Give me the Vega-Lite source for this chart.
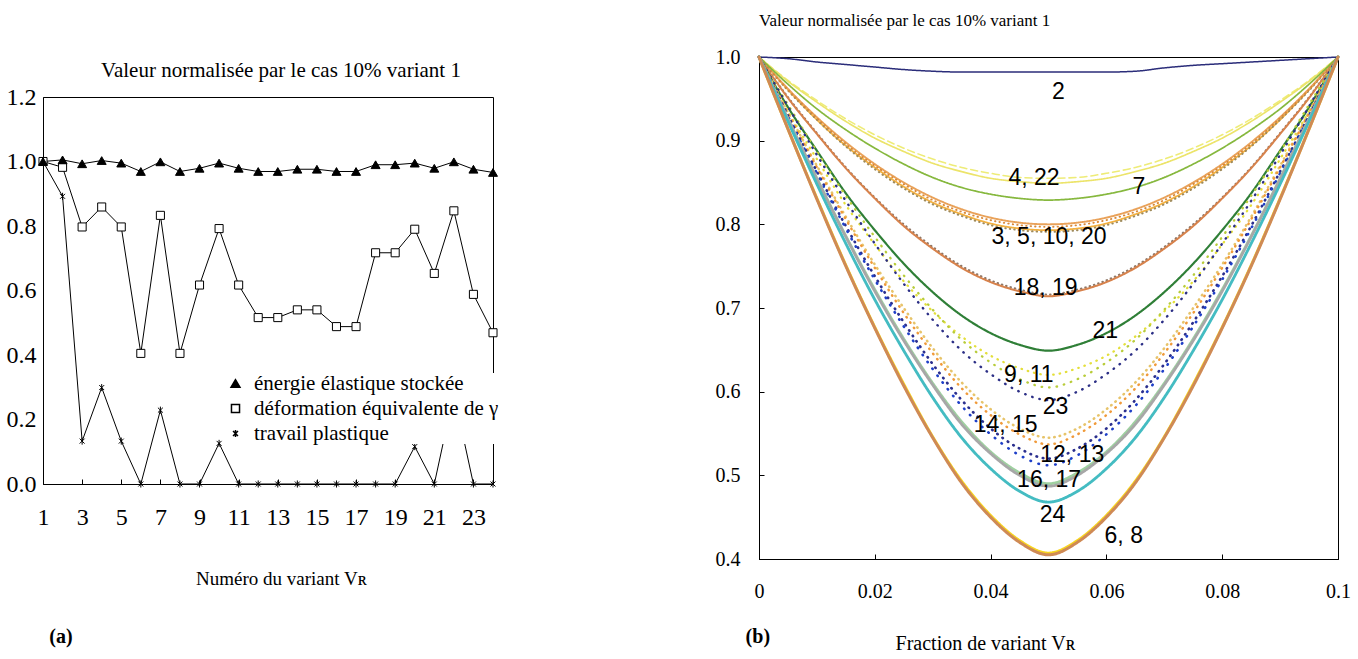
{
  "$schema": "https://vega.github.io/schema/vega-lite/v6.json",
  "background": "white",
  "padding": {"left": 5, "top": 11, "right": 5, "bottom": 5},
  "config": {
    "view": {"stroke": "black", "strokeWidth": 1},
    "font": "Liberation Serif",
    "axis": {"domainColor": "black", "tickColor": "black", "labelColor": "black", "titleColor": "black", "grid": false, "labelFont": "Liberation Serif", "titleFont": "Liberation Serif", "titleFontWeight": "normal"},
    "legend": {"labelFont": "Liberation Serif", "labelFontSize": 21, "labelColor": "black", "labelLimit": 0},
    "title": {"font": "Liberation Serif", "fontWeight": "normal", "color": "black"}
  },
  "spacing": 214,
  "hconcat": [
    {
      "spacing": 1,
      "vconcat": [
        {"width": 450, "height": 1, "data": {"values": []}, "mark": "point", "view": {"stroke": null}},
        {
          "width": 450,
          "height": 387,
          "title": {"text": "Valeur normalisée par le cas 10% variant 1", "fontSize": 21, "offset": 4, "anchor": "middle", "dx": 13},
          "layer": [
            {
              "data": {"name": "variants", "values": [
                {"v": 1, "a": 1.0, "b": 1.0, "c": 1.0},
                {"v": 2, "a": 1.005, "b": 0.982, "c": 0.892},
                {"v": 3, "a": 0.993, "b": 0.797, "c": 0.133},
                {"v": 4, "a": 1.003, "b": 0.859, "c": 0.299},
                {"v": 5, "a": 0.995, "b": 0.797, "c": 0.133},
                {"v": 6, "a": 0.969, "b": 0.405, "c": 0.0},
                {"v": 7, "a": 0.999, "b": 0.833, "c": 0.229},
                {"v": 8, "a": 0.969, "b": 0.405, "c": 0.0},
                {"v": 9, "a": 0.979, "b": 0.617, "c": 0.0},
                {"v": 10, "a": 0.995, "b": 0.792, "c": 0.126},
                {"v": 11, "a": 0.979, "b": 0.617, "c": 0.0},
                {"v": 12, "a": 0.969, "b": 0.516, "c": 0.0},
                {"v": 13, "a": 0.969, "b": 0.516, "c": 0.0},
                {"v": 14, "a": 0.976, "b": 0.54, "c": 0.0},
                {"v": 15, "a": 0.976, "b": 0.54, "c": 0.0},
                {"v": 16, "a": 0.969, "b": 0.488, "c": 0.0},
                {"v": 17, "a": 0.969, "b": 0.488, "c": 0.0},
                {"v": 18, "a": 0.99, "b": 0.717, "c": 0.0},
                {"v": 19, "a": 0.99, "b": 0.717, "c": 0.0},
                {"v": 20, "a": 0.995, "b": 0.79, "c": 0.116},
                {"v": 21, "a": 0.979, "b": 0.653, "c": 0.0},
                {"v": 22, "a": 0.999, "b": 0.847, "c": 0.28},
                {"v": 23, "a": 0.976, "b": 0.588, "c": 0.0},
                {"v": 24, "a": 0.966, "b": 0.469, "c": 0.0}
              ]},
              "transform": [{"fold": ["c", "b", "a"], "as": ["s", "y"]}],
              "encoding": {
                "x": {"field": "v", "type": "quantitative", "scale": {"domain": [1, 24], "nice": false, "zero": false},
                  "axis": {"values": [1,2,3,4,5,6,7,8,9,10,11,12,13,14,15,16,17,18,19,20,21,22,23,24], "labelExpr": "datum.value % 2 == 1 ? datum.label : ''", "title": "Numéro du variant Vʀ", "labelFontSize": 24, "tickSize": -5, "labelPadding": 26, "titleFontSize": 19, "titleX": 238, "titleY": 94, "titleBaseline": "middle", "labelFlush": false, "labelOverlap": false}},
                "y": {"field": "y", "type": "quantitative", "scale": {"domain": [0, 1.2], "nice": false},
                  "axis": {"values": [0, 0.2, 0.4, 0.6, 0.8, 1.0, 1.2], "format": ".1f", "ticks": false, "labelFontSize": 24, "labelPadding": 7, "title": null}}
              },
              "layer": [
                {"mark": {"type": "line", "color": "black", "strokeWidth": 1}, "encoding": {"detail": {"field": "s"}}},
                {"mark": {"type": "point", "filled": true, "stroke": "black", "strokeWidth": 1, "opacity": 1},
                  "encoding": {
                    "shape": {"field": "s", "type": "nominal", "scale": {"domain": ["a", "b", "c"], "range": ["triangle-up", "square", "M-0.7,-0.7L0.7,0.7M-0.7,0.7L0.7,-0.7M0,-1V1"]},
                      "legend": {"orient": "none", "legendX": 182, "legendY": 316, "title": null, "labelFontSize": 21, "labelFont": "Liberation Serif", "labelColor": "black", "labelLimit": 0, "labelOffset": 8, "rowPadding": 3, "fillColor": "white", "padding": 0,
                        "labelExpr": "datum.value == 'a' ? 'énergie élastique stockée' : datum.value == 'b' ? 'déformation équivalente de γ' : 'travail plastique'"}},
                    "fill": {"field": "s", "type": "nominal", "scale": {"domain": ["a", "b", "c"], "range": ["black", "white", "black"]},
                      "legend": {"orient": "none", "legendX": 182, "legendY": 316, "title": null, "labelFontSize": 21, "labelFont": "Liberation Serif", "labelColor": "black", "labelLimit": 0, "labelOffset": 8, "rowPadding": 3, "fillColor": "white", "padding": 0,
                        "labelExpr": "datum.value == 'a' ? 'énergie élastique stockée' : datum.value == 'b' ? 'déformation équivalente de γ' : 'travail plastique'"}},
                    "size": {"field": "s", "type": "nominal", "scale": {"domain": ["a", "b", "c"], "range": [80, 50, 45]},
                      "legend": {"orient": "none", "legendX": 182, "legendY": 316, "title": null, "labelFontSize": 21, "labelFont": "Liberation Serif", "labelColor": "black", "labelLimit": 0, "labelOffset": 8, "rowPadding": 3, "fillColor": "white", "padding": 0,
                        "labelExpr": "datum.value == 'a' ? 'énergie élastique stockée' : datum.value == 'b' ? 'déformation équivalente de γ' : 'travail plastique'"}}
                  }}
              ]
            },
            {"data": {"values": [{"lab": "(a)"}]}, "mark": {"type": "text", "fontSize": 20, "fontWeight": "bold", "font": "Liberation Serif", "color": "black"},
              "encoding": {"x": {"datum": 1.92, "type": "quantitative"}, "y": {"datum": -0.474, "type": "quantitative"}, "text": {"field": "lab"}}}
          ]
        }
      ]
    },
    {
      "width": 579,
      "height": 502,
      "title": {"text": "Valeur normalisée par le cas 10% variant 1", "fontSize": 17, "anchor": "start", "frame": "group", "offset": 17},
      "layer": [
        {
          "data": {"values": [
            {"x": 0.000, "c2": 1.0, "c4": 1.0, "c22": 1.0, "c7": 1.0, "c3": 1.0, "c5": 1.0, "c10": 1.0, "c20": 1.0, "c18": 1.0, "c19": 1.0, "c21": 1.0, "c9": 1.0, "c11": 1.0, "c23": 1.0, "c12": 1.0, "c13": 1.0, "c14": 1.0, "c15": 1.0, "c16": 1.0, "c17": 1.0, "c24": 1.0, "c6": 1.0, "c8": 1.0},
            {"x": 0.005, "c2": 0.998, "c4": 0.972, "c22": 0.971, "c7": 0.9675, "c3": 0.961, "c5": 0.961, "c10": 0.962, "c20": 0.960, "c18": 0.951, "c19": 0.952, "c21": 0.940, "c9": 0.935, "c11": 0.943, "c23": 0.941, "c12": 0.933, "c13": 0.934, "c14": 0.929, "c15": 0.930, "c16": 0.926, "c17": 0.926, "c24": 0.923, "c6": 0.914, "c8": 0.914},
            {"x": 0.010, "c2": 0.994, "c4": 0.948, "c22": 0.946, "c7": 0.938, "c3": 0.925, "c5": 0.927, "c10": 0.928, "c20": 0.925, "c18": 0.908, "c19": 0.909, "c21": 0.888, "c9": 0.878, "c11": 0.887, "c23": 0.883, "c12": 0.868, "c13": 0.870, "c14": 0.861, "c15": 0.863, "c16": 0.854, "c17": 0.855, "c24": 0.848, "c6": 0.831, "c8": 0.830},
            {"x": 0.015, "c2": 0.991, "c4": 0.926, "c22": 0.923, "c7": 0.913, "c3": 0.894, "c5": 0.896, "c10": 0.898, "c20": 0.893, "c18": 0.867, "c19": 0.868, "c21": 0.837, "c9": 0.823, "c11": 0.834, "c23": 0.828, "c12": 0.806, "c13": 0.809, "c14": 0.795, "c15": 0.798, "c16": 0.785, "c17": 0.786, "c24": 0.777, "c6": 0.751, "c8": 0.750},
            {"x": 0.020, "c2": 0.988, "c4": 0.907, "c22": 0.903, "c7": 0.891, "c3": 0.868, "c5": 0.870, "c10": 0.872, "c20": 0.866, "c18": 0.831, "c19": 0.832, "c21": 0.793, "c9": 0.776, "c11": 0.785, "c23": 0.777, "c12": 0.748, "c13": 0.752, "c14": 0.734, "c15": 0.738, "c16": 0.720, "c17": 0.722, "c24": 0.710, "c6": 0.677, "c8": 0.676},
            {"x": 0.025, "c2": 0.985, "c4": 0.891, "c22": 0.887, "c7": 0.872, "c3": 0.845, "c5": 0.848, "c10": 0.850, "c20": 0.843, "c18": 0.798, "c19": 0.800, "c21": 0.753, "c9": 0.732, "c11": 0.739, "c23": 0.729, "c12": 0.694, "c13": 0.700, "c14": 0.678, "c15": 0.683, "c16": 0.661, "c17": 0.663, "c24": 0.649, "c6": 0.609, "c8": 0.607},
            {"x": 0.030, "c2": 0.983, "c4": 0.878, "c22": 0.873, "c7": 0.856, "c3": 0.826, "c5": 0.829, "c10": 0.832, "c20": 0.824, "c18": 0.771, "c19": 0.773, "c21": 0.719, "c9": 0.696, "c11": 0.698, "c23": 0.686, "c12": 0.646, "c13": 0.652, "c14": 0.627, "c15": 0.633, "c16": 0.608, "c17": 0.610, "c24": 0.593, "c6": 0.546, "c8": 0.545},
            {"x": 0.035, "c2": 0.982, "c4": 0.868, "c22": 0.863, "c7": 0.844, "c3": 0.812, "c5": 0.815, "c10": 0.818, "c20": 0.810, "c18": 0.748, "c19": 0.750, "c21": 0.691, "c9": 0.666, "c11": 0.662, "c23": 0.649, "c12": 0.604, "c13": 0.611, "c14": 0.583, "c15": 0.590, "c16": 0.561, "c17": 0.564, "c24": 0.545, "c6": 0.493, "c8": 0.491},
            {"x": 0.040, "c2": 0.982, "c4": 0.861, "c22": 0.855, "c7": 0.836, "c3": 0.801, "c5": 0.805, "c10": 0.808, "c20": 0.799, "c18": 0.731, "c19": 0.733, "c21": 0.670, "c9": 0.643, "c11": 0.635, "c23": 0.621, "c12": 0.572, "c13": 0.579, "c14": 0.549, "c15": 0.556, "c16": 0.526, "c17": 0.528, "c24": 0.508, "c6": 0.452, "c8": 0.450},
            {"x": 0.045, "c2": 0.982, "c4": 0.856, "c22": 0.851, "c7": 0.831, "c3": 0.795, "c5": 0.799, "c10": 0.802, "c20": 0.793, "c18": 0.720, "c19": 0.722, "c21": 0.656, "c9": 0.628, "c11": 0.615, "c23": 0.600, "c12": 0.549, "c13": 0.556, "c14": 0.524, "c15": 0.532, "c16": 0.500, "c17": 0.503, "c24": 0.481, "c6": 0.422, "c8": 0.420},
            {"x": 0.050, "c2": 0.982, "c4": 0.855, "c22": 0.849, "c7": 0.829, "c3": 0.793, "c5": 0.797, "c10": 0.800, "c20": 0.791, "c18": 0.714, "c19": 0.716, "c21": 0.649, "c9": 0.620, "c11": 0.605, "c23": 0.590, "c12": 0.537, "c13": 0.545, "c14": 0.512, "c15": 0.520, "c16": 0.487, "c17": 0.490, "c24": 0.468, "c6": 0.407, "c8": 0.405},
            {"x": 0.055, "c2": 0.982, "c4": 0.856, "c22": 0.851, "c7": 0.831, "c3": 0.795, "c5": 0.799, "c10": 0.802, "c20": 0.793, "c18": 0.720, "c19": 0.722, "c21": 0.656, "c9": 0.628, "c11": 0.615, "c23": 0.600, "c12": 0.549, "c13": 0.556, "c14": 0.524, "c15": 0.532, "c16": 0.500, "c17": 0.503, "c24": 0.481, "c6": 0.422, "c8": 0.420},
            {"x": 0.060, "c2": 0.982, "c4": 0.861, "c22": 0.855, "c7": 0.836, "c3": 0.801, "c5": 0.805, "c10": 0.808, "c20": 0.799, "c18": 0.731, "c19": 0.733, "c21": 0.670, "c9": 0.643, "c11": 0.635, "c23": 0.621, "c12": 0.572, "c13": 0.579, "c14": 0.549, "c15": 0.556, "c16": 0.526, "c17": 0.528, "c24": 0.508, "c6": 0.452, "c8": 0.450},
            {"x": 0.065, "c2": 0.983, "c4": 0.868, "c22": 0.863, "c7": 0.844, "c3": 0.812, "c5": 0.815, "c10": 0.818, "c20": 0.810, "c18": 0.748, "c19": 0.750, "c21": 0.691, "c9": 0.666, "c11": 0.662, "c23": 0.649, "c12": 0.604, "c13": 0.611, "c14": 0.583, "c15": 0.590, "c16": 0.561, "c17": 0.564, "c24": 0.545, "c6": 0.493, "c8": 0.491},
            {"x": 0.070, "c2": 0.987, "c4": 0.878, "c22": 0.873, "c7": 0.856, "c3": 0.826, "c5": 0.829, "c10": 0.832, "c20": 0.824, "c18": 0.771, "c19": 0.773, "c21": 0.719, "c9": 0.696, "c11": 0.698, "c23": 0.686, "c12": 0.646, "c13": 0.652, "c14": 0.627, "c15": 0.633, "c16": 0.608, "c17": 0.610, "c24": 0.593, "c6": 0.546, "c8": 0.545},
            {"x": 0.075, "c2": 0.990, "c4": 0.891, "c22": 0.887, "c7": 0.872, "c3": 0.845, "c5": 0.848, "c10": 0.850, "c20": 0.843, "c18": 0.798, "c19": 0.800, "c21": 0.753, "c9": 0.732, "c11": 0.739, "c23": 0.729, "c12": 0.694, "c13": 0.700, "c14": 0.678, "c15": 0.683, "c16": 0.661, "c17": 0.663, "c24": 0.649, "c6": 0.609, "c8": 0.607},
            {"x": 0.080, "c2": 0.992, "c4": 0.907, "c22": 0.903, "c7": 0.891, "c3": 0.868, "c5": 0.870, "c10": 0.872, "c20": 0.866, "c18": 0.831, "c19": 0.832, "c21": 0.793, "c9": 0.776, "c11": 0.785, "c23": 0.777, "c12": 0.748, "c13": 0.752, "c14": 0.734, "c15": 0.738, "c16": 0.720, "c17": 0.722, "c24": 0.710, "c6": 0.677, "c8": 0.676},
            {"x": 0.085, "c2": 0.994, "c4": 0.926, "c22": 0.923, "c7": 0.913, "c3": 0.894, "c5": 0.896, "c10": 0.898, "c20": 0.893, "c18": 0.867, "c19": 0.868, "c21": 0.837, "c9": 0.823, "c11": 0.834, "c23": 0.828, "c12": 0.806, "c13": 0.809, "c14": 0.795, "c15": 0.798, "c16": 0.785, "c17": 0.786, "c24": 0.777, "c6": 0.751, "c8": 0.750},
            {"x": 0.090, "c2": 0.996, "c4": 0.948, "c22": 0.946, "c7": 0.938, "c3": 0.925, "c5": 0.927, "c10": 0.928, "c20": 0.925, "c18": 0.908, "c19": 0.909, "c21": 0.888, "c9": 0.878, "c11": 0.887, "c23": 0.883, "c12": 0.868, "c13": 0.870, "c14": 0.861, "c15": 0.863, "c16": 0.854, "c17": 0.855, "c24": 0.848, "c6": 0.831, "c8": 0.830},
            {"x": 0.095, "c2": 0.998, "c4": 0.972, "c22": 0.971, "c7": 0.9675, "c3": 0.961, "c5": 0.961, "c10": 0.962, "c20": 0.960, "c18": 0.951, "c19": 0.952, "c21": 0.940, "c9": 0.935, "c11": 0.943, "c23": 0.941, "c12": 0.933, "c13": 0.934, "c14": 0.929, "c15": 0.930, "c16": 0.926, "c17": 0.926, "c24": 0.923, "c6": 0.914, "c8": 0.914},
            {"x": 0.100, "c2": 1.0, "c4": 1.0, "c22": 1.0, "c7": 1.0, "c3": 1.0, "c5": 1.0, "c10": 1.0, "c20": 1.0, "c18": 1.0, "c19": 1.0, "c21": 1.0, "c9": 1.0, "c11": 1.0, "c23": 1.0, "c12": 1.0, "c13": 1.0, "c14": 1.0, "c15": 1.0, "c16": 1.0, "c17": 1.0, "c24": 1.0, "c6": 1.0, "c8": 1.0}
          ]},
          "transform": [{"fold": ["c4", "c3", "c6", "c22", "c20", "c10", "c5", "c7", "c2", "c19", "c18", "c21", "c9", "c11", "c23", "c13", "c12", "c15", "c14", "c17", "c16", "c24", "c8"], "as": ["curve", "y"]}],
          "mark": {"type": "line", "interpolate": "monotone", "strokeCap": "round"},
          "encoding": {
            "x": {"field": "x", "type": "quantitative", "scale": {"domain": [0, 0.1], "nice": false},
              "axis": {"values": [0, 0.02, 0.04, 0.06, 0.08, 0.1], "labelExpr": "datum.value == 0 ? '0' : format(datum.value, '.2~f')", "labelFontSize": 20, "tickSize": -5, "labelPadding": 27, "title": "Fraction de variant Vʀ", "titleFontSize": 20, "titleX": 226, "titleY": 84, "titleBaseline": "middle", "labelFlush": false}},
            "y": {"field": "y", "type": "quantitative", "scale": {"domain": [0.4, 1.0], "nice": false, "zero": false},
              "axis": {"values": [0.4, 0.5, 0.6, 0.7, 0.8, 0.9, 1.0], "format": ".1f", "labelFontSize": 20, "tickSize": -5, "labelPadding": 24, "title": null}},
            "color": {"field": "curve", "type": "nominal", "legend": null, "scale": {
              "domain": ["c2", "c4", "c22", "c7", "c3", "c5", "c10", "c20", "c18", "c19", "c21", "c9", "c11", "c23", "c12", "c13", "c14", "c15", "c16", "c17", "c24", "c6", "c8"],
              "range": ["#2b2d7a", "#eeec78", "#ece46a", "#86b83e", "#f4b13f", "#d88838", "#e9a25a", "#9f8a5a", "#d7824c", "#8f7766", "#2f7f37", "#e4df3a", "#b8cc3a", "#2c2f86", "#f09a3a", "#e7c46a", "#1e3fc8", "#2b2f8e", "#a7a7a7", "#9fd0a0", "#44bcc2", "#f7d520", "#cf8a55"]}},
            "strokeDash": {"field": "curve", "type": "nominal", "legend": null, "scale": {
              "domain": ["c2", "c4", "c22", "c7", "c3", "c5", "c10", "c20", "c18", "c19", "c21", "c9", "c11", "c23", "c12", "c13", "c14", "c15", "c16", "c17", "c24", "c6", "c8"],
              "range": [[1, 0], [7, 4], [1, 0], [1, 0], [1, 0], [0.5, 4], [1, 0], [0.5, 4], [1, 0], [0.5, 4], [1, 0], [0.5, 6], [0.5, 7], [0.5, 7], [0.5, 6], [0.5, 5], [0.5, 8], [0.5, 6], [1, 0], [1, 0], [1, 0], [1, 0], [1, 0]]}},
            "strokeWidth": {"field": "curve", "type": "ordinal", "legend": null, "scale": {
              "domain": ["c2", "c4", "c22", "c7", "c3", "c5", "c10", "c20", "c18", "c19", "c21", "c9", "c11", "c23", "c12", "c13", "c14", "c15", "c16", "c17", "c24", "c6", "c8"],
              "range": [1.5, 3, 1.5, 1.3, 2.5, 1.6, 1.2, 1.4, 1.3, 1.4, 1.3, 2.2, 2.2, 1.5, 2.2, 1.8, 3, 1.6, 1.3, 1.3, 1.5, 2.5, 1.3]}}
          }
        },
        {
          "data": {"values": [
            {"t": "2", "x": 0.0517, "y": 0.9585},
            {"t": "4, 22", "x": 0.0475, "y": 0.855},
            {"t": "7", "x": 0.0656, "y": 0.845},
            {"t": "3, 5, 10, 20", "x": 0.0501, "y": 0.785},
            {"t": "18, 19", "x": 0.0495, "y": 0.7237},
            {"t": "21", "x": 0.0598, "y": 0.672},
            {"t": "9, 11", "x": 0.0466, "y": 0.62},
            {"t": "23", "x": 0.0512, "y": 0.582},
            {"t": "14, 15", "x": 0.0426, "y": 0.56},
            {"t": "12, 13", "x": 0.0541, "y": 0.5245},
            {"t": "16, 17", "x": 0.0501, "y": 0.4946},
            {"t": "24", "x": 0.0507, "y": 0.4528},
            {"t": "6, 8", "x": 0.063, "y": 0.4269}
          ]},
          "mark": {"type": "text", "font": "Liberation Sans", "fontSize": 23, "color": "black"},
          "encoding": {
            "x": {"field": "x", "type": "quantitative"},
            "y": {"field": "y", "type": "quantitative"},
            "text": {"field": "t"}
          }
        },
        {
          "data": {"values": [{"lab": "(b)"}]},
          "mark": {"type": "text", "fontSize": 20, "fontWeight": "bold", "font": "Liberation Serif", "color": "black"},
          "encoding": {"x": {"datum": -0.0002}, "y": {"datum": 0.3068}, "text": {"field": "lab"}}
        }
      ]
    }
  ]
}
